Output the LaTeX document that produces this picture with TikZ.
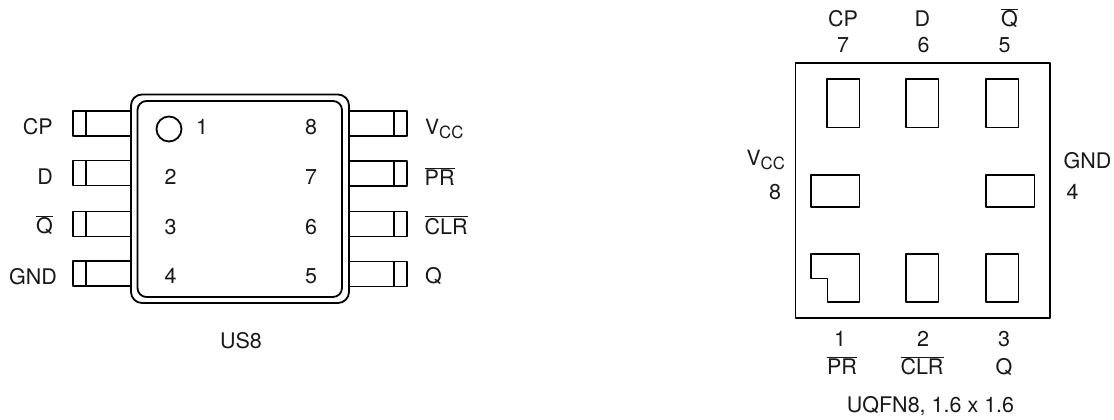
\documentclass[tikz,border=0pt]{standalone}
\usepackage{fontspec}
\setmainfont{TeX Gyre Heros}
\newcommand{\ovl}[1]{\ensuremath{\overline{\mbox{#1}}}}
\newcommand{\vcc}{{\fontsize{21}{21}\selectfont V}\raisebox{-4.5pt}{\fontsize{16.8}{16}\selectfont CC}}
\tikzset{
  x=1pt,y=-1pt,
  line/.style={draw=black,line width=1.8pt,line join=round},
  thin line/.style={draw=black,line width=1.5pt,line join=round},
  lbl/.style={inner sep=0pt,anchor=base,font=\fontsize{21.5}{23}\selectfont,text=black!90},
}
\begin{document}
\begin{tikzpicture}
\useasboundingbox (0,0) rectangle (1114,420);
% US8 body
\draw[line,rounded corners=11pt] (131,94.5) rectangle (349,303);
\draw[line,rounded corners=9pt] (137.5,101) rectangle (342,297);
\draw[line] (169,129) circle (12.5);
% left pins
\foreach \y in {111,160.5,211.5,261}{
  \draw[line] (131,\y) -- (73,\y) -- (73,\y+25) -- (131,\y+25);
  \draw[line] (85.7,\y) -- (85.7,\y+25);
}
% right pins
\foreach \y in {111,161,211.5,261.5}{
  \draw[line] (349,\y) -- (407,\y) -- (407,\y+25) -- (349,\y+25);
  \draw[line] (394,\y) -- (394,\y+25);
}
% US8 labels
\node[lbl,anchor=base east] (l1) at (53,134) {CP};
\node[lbl,anchor=base east] (l2) at (53,184) {D};
\node[lbl,anchor=base east] (l3) at (53,233.5) {\ovl{Q}};
\node[lbl,anchor=base east] (l4) at (57,284) {GND};
\node[lbl] (n1) at (202,134) {1};
\node[lbl] (n2) at (170.5,184) {2};
\node[lbl] (n3) at (170.5,234) {3};
\node[lbl] (n4) at (170.5,283) {4};
\node[lbl] (n8) at (311,134) {8};
\node[lbl] (n7) at (311,184) {7};
\node[lbl] (n6) at (311,234) {6};
\node[lbl] (n5) at (311,283) {5};
\node[lbl,anchor=base west] (r8) at (425,134) {\vcc};
\node[lbl,anchor=base west] (r7) at (424.5,185) {\ovl{PR}};
\node[lbl,anchor=base west] (r6) at (424.5,234) {\ovl{CLR}};
\node[lbl,anchor=base west] (r5) at (425,283) {Q};
\node[lbl] (us) at (241,348) {US8};
% UQFN body
\draw[line] (795.5,63) rectangle (1050,318);
\foreach \x in {827,906,986}{
  \draw[thin line] (\x,79) rectangle (\x+32.5,127.5);
}
\draw[thin line] (811,175) rectangle (859.5,207);
\draw[thin line] (986,175) rectangle (1034.5,207);
\draw[thin line] (811,254) -- (859.5,254) -- (859.5,302) -- (827.5,302) -- (827.5,278.5) -- (811,278.5) -- cycle;
\draw[thin line] (906,254) rectangle (938.5,302);
\draw[thin line] (986,254) rectangle (1018.5,302);
% UQFN labels
\node[lbl] (t1) at (843,27) {CP};
\node[lbl] (t2) at (922.5,27) {D};
\node[lbl] (t3) at (1009.5,27) {\ovl{Q}};
\node[lbl] (t4) at (843,53) {7};
\node[lbl] (t5) at (923.5,53) {6};
\node[lbl] (t6) at (1004.5,53) {5};
\node[lbl,anchor=base west] (s1) at (746.5,165) {\vcc};
\node[lbl] (s2) at (775,199) {8};
\node[lbl] (s3) at (1087.5,168) {GND};
\node[lbl] (s4) at (1072.5,199) {4};
\node[lbl] (b1) at (840,346.5) {1};
\node[lbl] (b2) at (923,346.5) {2};
\node[lbl] (b3) at (1004,346.5) {3};
\node[lbl] (b4) at (842,374.5) {\ovl{PR}};
\node[lbl] (b5) at (922,374.5) {\ovl{CLR}};
\node[lbl] (b6) at (1004,374.5) {Q};
\node[lbl] (ttl) at (930.5,412) {UQFN8, 1.6 x 1.6};
\end{tikzpicture}
\end{document}
